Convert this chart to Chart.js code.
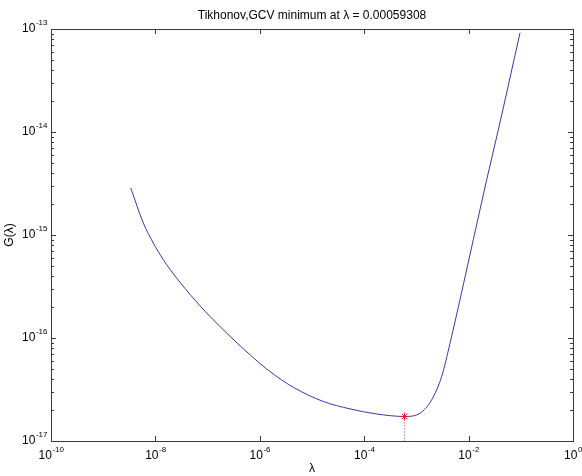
<!DOCTYPE html>
<html lang="en">
<head>
  <meta charset="UTF-8">
  <title>GCV</title>
  <script src="https://cdn.jsdelivr.net/npm/chart.js"></script>
  <style>
    body { margin: 0; background: #fff; }
    canvas { display: block; }
  </style>
</head>
<body>
  <canvas id="gcvChart" width="582" height="476"></canvas>

  <script>
    // curve
    const lambdas = [3.37e-9, 5.86e-9, 9.12e-9, 1.42e-8, 1.91e-8, 4.60e-8, 1.11e-7, 2.69e-7, 6.49e-7,
      1.57e-6, 4.39e-6, 1.64e-5, 5.35e-5, 1.73e-4, 5.9308e-4, 1.17e-3, 1.96e-3, 3.05e-3, 4.41e-3,
      1.23e-2, 2.22e-2, 3.71e-2, 9.66e-2];
    const gValues = [2.86e-15, 1.31e-15, 8.36e-16, 5.75e-16, 4.63e-16, 2.65e-16, 1.62e-16, 1.04e-16, 6.87e-17,
      4.72e-17, 3.32e-17, 2.42e-17, 2.05e-17, 1.83e-17, 1.73e-17, 1.86e-17, 2.51e-17, 4.23e-17, 8.91e-17,
      8.99e-16, 3.44e-15, 1.05e-14, 9.18e-14];

    const lambdaMin = 0.00059308;
    const gMin = 1.73e-17;

    const xTickExps = [-10, -8, -6, -4, -2, 0];
    const yTickExps = [-17, -16, -15, -14, -13];

    const titleText = 'Tikhonov,GCV minimum at \u03bb = 0.00059308';
    const xLabel = '\u03bb';
    const yLabel = 'G(\u03bb)';

    const font = 'Arial, "Liberation Sans", sans-serif';

    function drawPow(ctx, x, y, exp, align) {
      // "10" with a raised exponent, y is the middle of "10"
      ctx.font = '12px ' + font;
      const w1 = ctx.measureText('10').width;
      ctx.font = '8px ' + font;
      const w2 = ctx.measureText(String(exp)).width;
      let left = x;
      if (align === 'center') left = x - (w1 + w2) / 2;
      if (align === 'right') left = x - (w1 + w2);
      ctx.textBaseline = 'middle';
      ctx.textAlign = 'left';
      ctx.font = '12px ' + font;
      ctx.fillText('10', left, y);
      ctx.font = '8px ' + font;
      ctx.fillText(String(exp), left + w1 + 0.5, y - 6);
    }

    const matlabAxes = {
      id: 'matlabAxes',
      afterDraw(chart) {
        const ctx = chart.ctx;
        const a = chart.chartArea;
        const xs = chart.scales.x;
        const ys = chart.scales.y;
        ctx.save();
        ctx.strokeStyle = '#3a3a3a';
        ctx.lineWidth = 1;
        ctx.strokeRect(Math.round(a.left) + 0.5, Math.round(a.top) + 0.5,
          Math.round(a.right - a.left), Math.round(a.bottom - a.top));

        ctx.beginPath();
        xTickExps.forEach(e => {
          const px = Math.round(xs.getPixelForValue(Math.pow(10, e))) + 0.5;
          ctx.moveTo(px, a.bottom); ctx.lineTo(px, a.bottom - 5);
          ctx.moveTo(px, a.top); ctx.lineTo(px, a.top + 5);
        });
        yTickExps.forEach((e, i) => {
          const py = Math.round(ys.getPixelForValue(Math.pow(10, e))) + 0.5;
          ctx.moveTo(a.left, py); ctx.lineTo(a.left + 5, py);
          ctx.moveTo(a.right, py); ctx.lineTo(a.right - 5, py);
          if (i < yTickExps.length - 1) {
            for (let k = 2; k <= 9; k++) {
              const pm = Math.round(ys.getPixelForValue(k * Math.pow(10, e))) + 0.5;
              ctx.moveTo(a.left, pm); ctx.lineTo(a.left + 3, pm);
              ctx.moveTo(a.right, pm); ctx.lineTo(a.right - 3, pm);
            }
          }
        });
        ctx.stroke();

        ctx.fillStyle = '#000';
        xTickExps.forEach(e => {
          const px = xs.getPixelForValue(Math.pow(10, e));
          drawPow(ctx, px, a.bottom + 15, e, 'center');
        });
        yTickExps.forEach(e => {
          const py = ys.getPixelForValue(Math.pow(10, e));
          drawPow(ctx, a.left - 4, py, e, 'right');
        });

        ctx.font = '12px ' + font;
        ctx.textAlign = 'center';
        ctx.textBaseline = 'middle';
        ctx.fillText(titleText, (a.left + a.right) / 2, 16);
        ctx.fillText(xLabel, (a.left + a.right) / 2, 469);
        ctx.translate(10, (a.top + a.bottom) / 2);
        ctx.rotate(-Math.PI / 2);
        ctx.fillText(yLabel, 0, 0);
        ctx.restore();
      }
    };

    const curve = lambdas.map((l, i) => ({ x: l, y: gValues[i] }));

    new Chart(document.getElementById('gcvChart'), {
      type: 'scatter',
      data: {
        datasets: [
          {
            data: [{ x: lambdaMin, y: gMin }],
            showLine: false,
            pointStyle: 'star',
            pointRadius: 4,
            borderColor: '#e02020',
            backgroundColor: '#e02020',
            borderWidth: 1
          },
          {
            data: [{ x: lambdaMin, y: gMin }, { x: lambdaMin, y: 1e-17 }],
            showLine: true,
            pointRadius: 0,
            borderColor: '#e04040',
            borderWidth: 1,
            borderDash: [1, 2]
          },
          {
            data: curve,
            showLine: true,
            pointRadius: 0,
            borderColor: '#3838a8',
            borderWidth: 1,
            cubicInterpolationMode: 'monotone'
          }
        ]
      },
      options: {
        responsive: false,
        animation: false,
        layout: { padding: { left: 51, right: 9, top: 29, bottom: 35 } },
        scales: {
          x: { type: 'logarithmic', min: 1e-10, max: 1, display: false },
          y: { type: 'logarithmic', min: 1e-17, max: 1e-13, display: false }
        },
        plugins: {
          legend: { display: false },
          tooltip: { enabled: false }
        }
      },
      plugins: [matlabAxes]
    });
  </script>
</body>
</html>
